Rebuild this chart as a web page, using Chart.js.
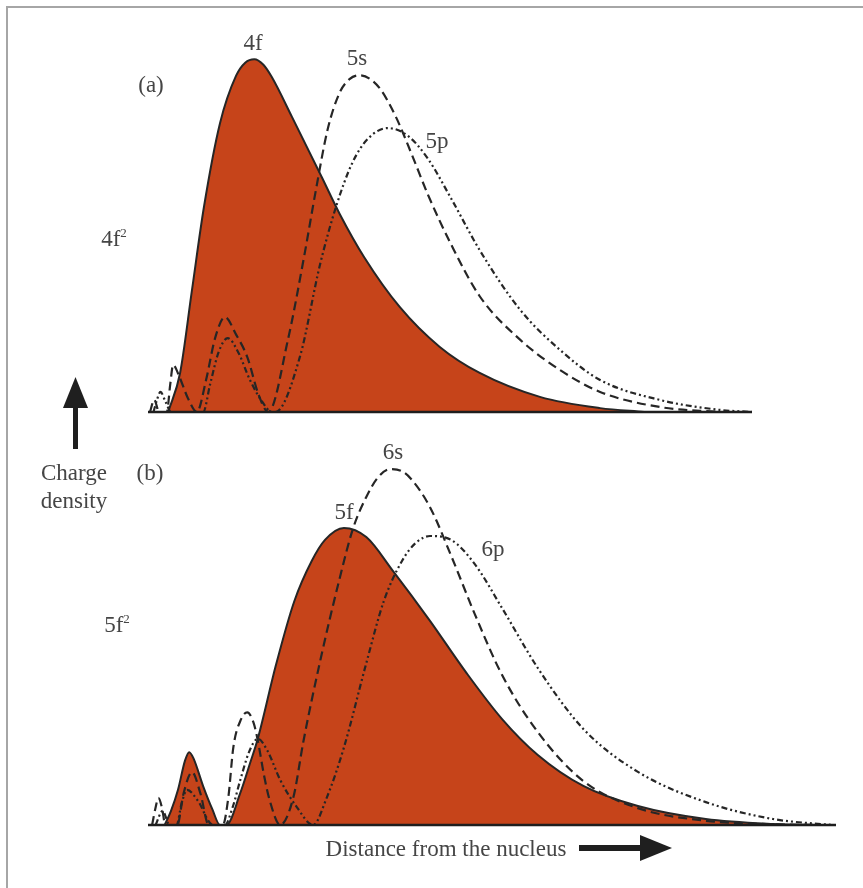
<!DOCTYPE html>
<html>
<head>
<meta charset="utf-8">
<script src="https://cdn.jsdelivr.net/npm/chart.js"></script>
<style>
  html, body { margin: 0; padding: 0; background: #fff; }
  #page { position: relative; width: 863px; height: 888px; overflow: hidden; background: #fff; }
  #frame { position: absolute; left: 6px; top: 6px; width: 870px; height: 900px;
           border-top: 2px solid #a6a6a6; border-left: 2px solid #a6a6a6; }
  canvas { position: absolute; left: 0; }
  .lbl { position: absolute; transform: translate(-50%, -50%); white-space: nowrap;
         font-family: "Liberation Serif", "DejaVu Serif", serif; font-size: 23px;
         color: #454545; line-height: 1; }
  .lbl sup { font-size: 13px; vertical-align: 9px; }
  svg { position: absolute; left: 0; top: 0; }
</style>
</head>
<body>
<div id="page">
  <div id="frame"></div>
  <canvas id="chartA" width="863" height="444" style="top:0"></canvas>
  <canvas id="chartB" width="863" height="444" style="top:444px"></canvas>

  <div class="lbl" style="left:253px;top:42px">4f</div>
  <div class="lbl" style="left:151px;top:84px">(a)</div>
  <div class="lbl" style="left:357px;top:57px">5s</div>
  <div class="lbl" style="left:437px;top:140px">5p</div>
  <div class="lbl" style="left:114px;top:238px">4f<sup>2</sup></div>
  <div class="lbl" style="left:74px;top:472px">Charge</div>
  <div class="lbl" style="left:74px;top:500px">density</div>
  <div class="lbl" style="left:150px;top:472px">(b)</div>
  <div class="lbl" style="left:393px;top:451px">6s</div>
  <div class="lbl" style="left:344px;top:511px">5f</div>
  <div class="lbl" style="left:493px;top:548px">6p</div>
  <div class="lbl" style="left:117px;top:624px">5f<sup>2</sup></div>
  <div class="lbl" style="left:446px;top:848px">Distance from the nucleus</div>

  <svg width="863" height="888">
    <rect x="73" y="400" width="5" height="49" fill="#1f1f1f"/>
    <polygon points="75.5,377 63,408 88,408" fill="#1f1f1f"/>
    <rect x="579" y="845" width="66" height="6" fill="#1f1f1f"/>
    <polygon points="640,835 672,848 640,861" fill="#1f1f1f"/>
  </svg>
</div>

<script>
// panel (a): distance (arbitrary units) and charge density
const r4f = [2.6, 4.3, 6.0, 7.7, 10.0, 12.3, 13.6, 14.9, 16.2, 17.4, 20.3, 24.6, 27.1, 30.6, 35.7, 41.4, 47.1, 55.7, 64.3, 70.6];
const d4f = [0, 11.1, 34.7, 58.2, 82.1, 95.6, 99.3, 100.3, 98.7, 95.2, 83.8, 66.5, 56.3, 44.0, 29.8, 18.5, 11.1, 4.3, 1.1, 0];

const r5s = [0, 0.6, 1.3, 2.4, 2.9, 3.3, 4.2, 5.4, 6.7, 8.0, 9.3, 10.7, 12.3, 13.9, 15.5, 16.9,
             19.7, 22.0, 23.7, 25.4, 27.1, 28.5, 29.9, 31.4, 32.9, 35.1, 37.4, 39.7, 43.1, 47.1, 52.9, 58.6, 64.3, 72.9, 81.4];
const d5s = [0, 3.5, 0, 0, 8, 13.4, 10, 4, 0, 9, 21, 27, 22, 15.6, 5, 0,
             20.5, 44.0, 63.1, 80.5, 90.8, 94.6, 95.7, 94.7, 91.8, 84.0, 73.2, 61.8, 47.3, 32.9, 20.5, 11.9, 5.7, 1.4, 0];

const r5p = [0.5, 1.0, 1.5, 2.2, 3.0, 7.6, 8.6, 9.8, 11.1, 12.6, 14.3, 16.0, 17.4,
             17.9, 21.4, 24.3, 26.6, 28.9, 31.1, 34.0, 36.9, 39.7, 43.1, 47.1, 52.9, 58.6, 64.3, 72.9, 81.4, 86];
const d5p = [0, 3.5, 5.7, 3, 0, 0, 8, 17, 21, 17, 9, 3, 0,
             0, 15.6, 42.0, 58.5, 70.8, 77.6, 80.7, 78.4, 72.0, 60.4, 46.0, 29.0, 17.6, 9.1, 3.4, 0.6, 0];

// panel (b)
const r5f = [2.1, 3.0, 4.0, 5.0, 5.6, 6.2, 7.6, 8.9, 10.0,
             10.9, 12.9, 14.3, 15.4, 18.0, 20.6, 23.1, 25.0, 27.7, 30.9, 34.7, 40.0, 45.1, 50.3, 55.4, 61.9, 69.7, 79.4, 89.0, 95.6];
const d5f = [0, 4, 10, 18.3, 20.7, 19, 11, 4.5, 0,
             0, 9.1, 17.6, 24.5, 45.5, 63.5, 75.0, 81.0, 84.4, 81.8, 72.2, 58.0, 43.5, 30.1, 19.9, 11.1, 5.4, 1.7, 0.3, 0];

const r6s = [0.3, 0.8, 1.2, 1.7, 2.2, 3.9, 4.8, 6.0, 7.2, 8.4,
             10.4, 11.2, 11.9, 13.0, 13.9, 14.8, 15.4, 16.3, 17.1, 18.6,
             20.5, 21.9, 24.4, 27.0, 29.0, 30.9, 32.6, 34.3, 35.9, 37.3, 40.0, 43.1, 46.4, 50.3, 55.4, 61.9, 69.7, 79.4, 89.0, 95.7];
const d6s = [0, 5, 7.7, 5, 0, 0, 9, 15, 9, 0,
             0, 8, 22, 30, 32, 29, 24, 14, 7, 0,
             8, 23.6, 47.4, 69.3, 84.2, 93.2, 98.8, 101.1, 100.6, 98.3, 90.3, 76.1, 59.9, 42.6, 26.4, 12.5, 4.8, 1.2, 0.2, 0];

const r6p = [0.8, 1.8, 2.8, 3.8, 4.5, 5.3, 6.8, 9.0,
             10.7, 11.8, 12.9, 14.2, 15.4, 16.8, 18.6, 21.0, 23.3,
             25.2, 27.7, 30.9, 33.4, 36.0, 38.0, 40.0, 43.1, 46.4, 50.3, 55.4, 61.9, 69.7, 79.4, 89.0, 97.4];
const d6p = [0, 4, 0, 0, 6, 10, 7, 0,
             0, 5, 12.8, 21, 24.5, 21, 12.8, 5, 0,
             7.5, 22, 46, 63.6, 75, 80.2, 82.1, 80.9, 74.1, 61.6, 44.6, 27.3, 15.1, 6.5, 1.7, 0];

const orange = '#c6441a';
const ink = '#262626';
const dashS = [9, 5];
const dashP = [6, 3, 2, 3, 2, 3];

function pts(rs, ds) {
    return rs.map((r, i) => ({ x: r, y: ds[i] }));
}

// solid axis line at zero density
const baseline = {
    id: 'baseline',
    afterDatasetsDraw(chart) {
        const { ctx, chartArea, scales } = chart;
        const y0 = scales.y.getPixelForValue(0);
        ctx.save();
        ctx.strokeStyle = '#1e1e1e';
        ctx.lineWidth = 2.5;
        ctx.beginPath();
        ctx.moveTo(chartArea.left - 2, y0);
        ctx.lineTo(chartArea.right, y0);
        ctx.stroke();
        ctx.restore();
    }
};

function panel(id, sets, xMax, yMax, padding) {
    const datasets = sets.map(s => ({
        label: s.label,
        data: s.data,
        borderColor: ink,
        borderWidth: s.fill ? 2 : 2.2,
        borderDash: s.dash || [],
        fill: s.fill ? 'origin' : false,
        backgroundColor: s.fill ? orange : 'transparent',
        order: s.fill ? 2 : 0,
        clip: 10
    }));
    new Chart(document.getElementById(id), {
        type: 'line',
        data: { datasets: datasets },
        options: {
            responsive: false,
            animation: false,
            layout: { padding: padding },
            elements: {
                point: { radius: 0 },
                line: { cubicInterpolationMode: 'monotone' }
            },
            plugins: { legend: { display: false }, tooltip: { enabled: false } },
            scales: {
                x: { type: 'linear', min: 0, max: xMax, display: false },
                y: { min: 0, max: yMax, display: false }
            }
        },
        plugins: [baseline]
    });
}

panel('chartA', [
    { label: '5s', data: pts(r5s, d5s), dash: dashS },
    { label: '5p', data: pts(r5p, d5p), dash: dashP },
    { label: '4f', data: pts(r4f, d4f), fill: true }
], 86, 110, { left: 150, right: 111, top: 25, bottom: 32 });

panel('chartB', [
    { label: '6s', data: pts(r6s, d6s), dash: dashS },
    { label: '6p', data: pts(r6p, d6p), dash: dashP },
    { label: '5f', data: pts(r5f, d5f), fill: true }
], 98, 105, { left: 150, right: 27, top: 11.4, bottom: 63 });
</script>
</body>
</html>
